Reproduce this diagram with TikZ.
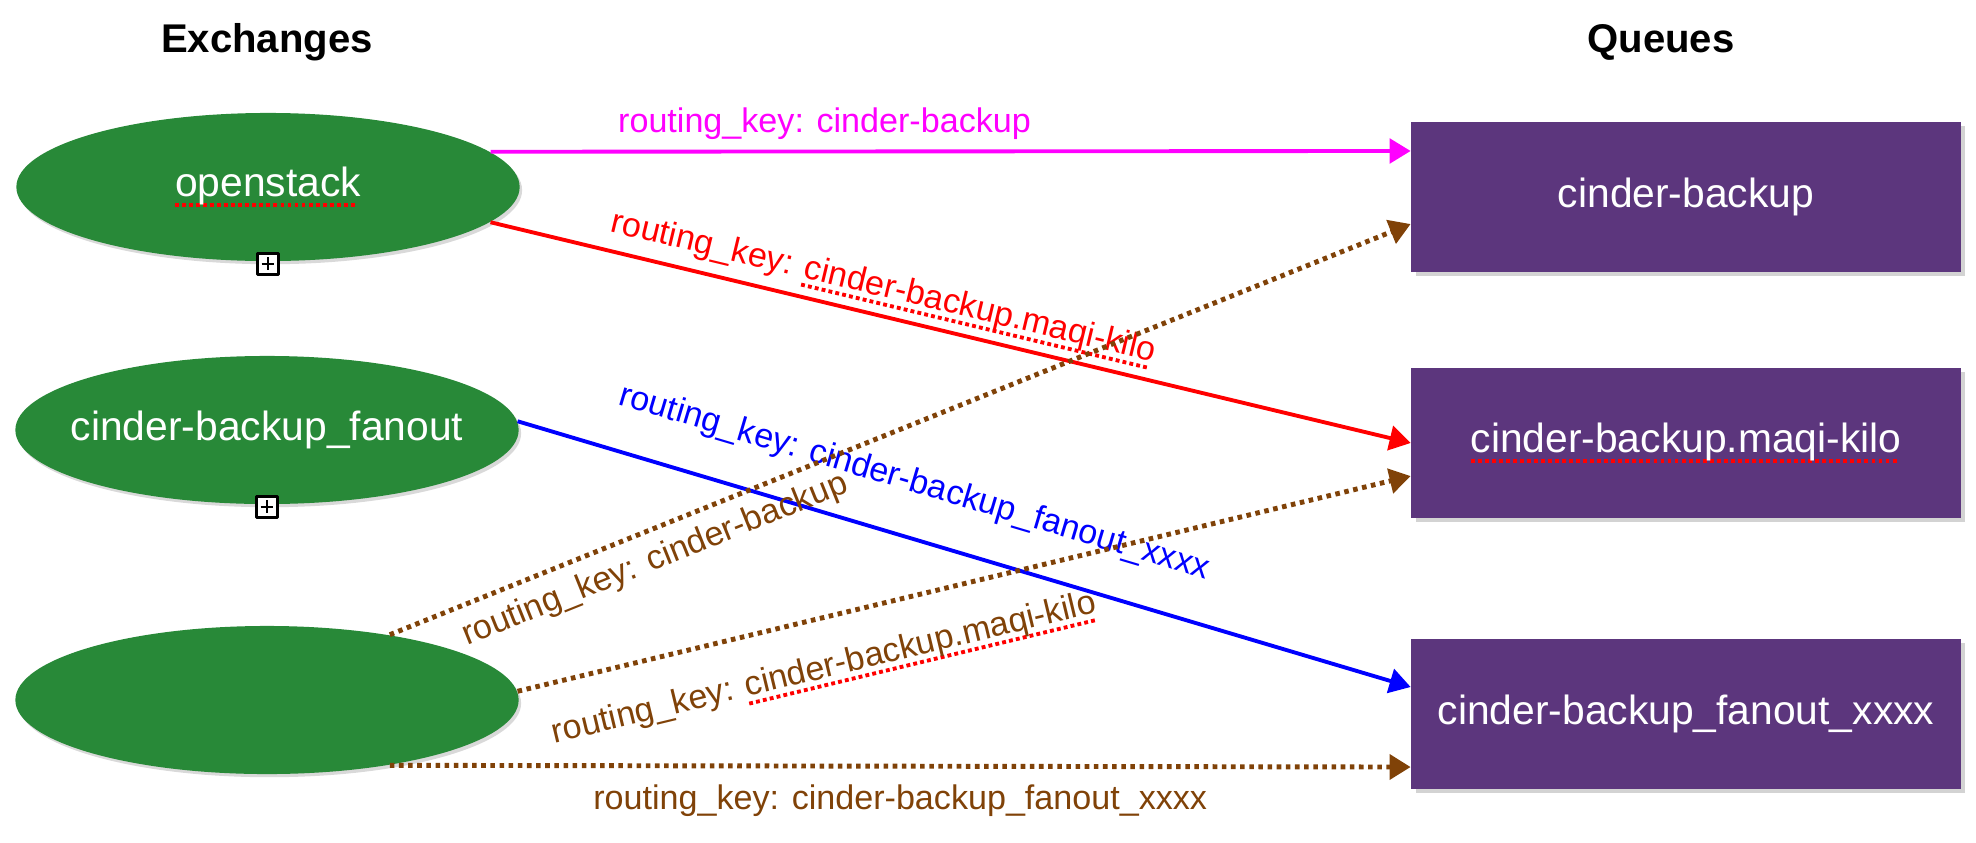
\documentclass[tikz,border=0pt]{standalone}
\usepackage{fontspec}
\setmainfont{Liberation Sans}
\usetikzlibrary{positioning, calc}
\usetikzlibrary{shapes.geometric, shadows}
\usetikzlibrary{arrows.meta}

\definecolor{exgreen}{RGB}{40,137,56}
\definecolor{qpurple}{RGB}{92,54,125}
\definecolor{keybrown}{RGB}{128,66,8}
\definecolor{keymagenta}{RGB}{255,0,255}

% red dotted spell-check mark under a word
\newsavebox{\spellbox}
\newcommand{\spellerr}[1]{\sbox{\spellbox}{#1}%
  \rlap{\color{red}\hbox to\wd\spellbox{\leaders\hbox{\rule[-0.5ex]{1.1pt}{1.1pt}\kern0.9pt}\hfill}}%
  \usebox{\spellbox}}

\begin{document}
\begin{tikzpicture}[x=0.01cm, y=0.01cm, line join=round,
  exchange/.style={ellipse, fill=exgreen, minimum width=5.03cm, minimum height=1.48cm,
    inner xsep=-0.5cm, inner ysep=0pt, text=white, font=\fontsize{11.6}{14}\selectfont,
    drop shadow={shadow xshift=0.7pt, shadow yshift=-0.9pt, opacity=0.3}},
  queue/.style={rectangle, fill=qpurple, minimum width=5.49cm, minimum height=1.5cm,
    inner sep=0pt, text=white, font=\fontsize{11.6}{14}\selectfont,
    drop shadow={shadow xshift=1.2pt, shadow yshift=-1.2pt, opacity=0.35}},
  heading/.style={font=\fontsize{11.4}{14}\selectfont\bfseries},
  keylabel/.style={font=\fontsize{9.7}{12}\selectfont, inner sep=0pt},
  keyarrow/.style={line width=1.1pt, -{Triangle[length=6pt, width=7pt]}},
  bindarrow/.style={keyarrow, keybrown, line width=1.4pt, dash pattern=on 1.3pt off 1.3pt},
  expander/.style={draw, fill=white, line width=0.8pt, minimum size=0.21cm, inner sep=0pt,
    path picture={
      \draw[line width=0.6pt]
        ($(path picture bounding box.north)!0.2!(path picture bounding box.south)$) --
        ($(path picture bounding box.north)!0.8!(path picture bounding box.south)$)
        ($(path picture bounding box.west)!0.2!(path picture bounding box.east)$) --
        ($(path picture bounding box.west)!0.8!(path picture bounding box.east)$);}}]
\useasboundingbox (0,0) rectangle (1976,-842);

% Column titles
\node[heading] (exhead) at (267,-42) {Exchanges};
\node[heading] (qhead) at (1661,-42) {Queues};

% Exchanges
\node[exchange] (openstack) at (268,-187) {\spellerr{openstack}};
\node[exchange] (fanout) at (267,-430) {cinder-backup\_fanout};
\node[exchange] (default) at (267,-700) {};
\node[expander] (openstackplus) at ([yshift=-0.02cm]openstack.south) {};
\node[expander] (fanoutplus) at ([yshift=-0.02cm]fanout.south) {};

% Queues
\node[queue] (backupq) at (1686,-197) {cinder-backup};
\node[queue] (hostq) at (1686,-443) {\spellerr{cinder-backup.maqi-kilo}};
\node[queue] (fanoutq) at (1686,-714) {cinder-backup\_fanout\_xxxx};

% Bindings from the named exchanges
\draw[keyarrow, keymagenta] (openstack.9) -- ([yshift=0.46cm]backupq.west)
  node[keylabel, pos=0.363, above=0.1cm] {routing\_key: cinder-backup};
\draw[keyarrow, red] (openstack.-9.4) -- (hostq.west)
  node[keylabel, pos=0.42, sloped, above=0.08cm] {routing\_key: \spellerr{cinder-backup.maqi-kilo}};
\draw[keyarrow, blue] (fanout.2) -- ([yshift=0.27cm]fanoutq.west)
  node[keylabel, pos=0.427, sloped, above=0.36cm] {routing\_key: cinder-backup\_fanout\_xxxx};

% Bindings from the default exchange
\draw[bindarrow] (default.28) -- ([yshift=-0.27cm]backupq.west)
  node[keylabel, text=keybrown, pos=0.249, sloped, below=0.12cm] {routing\_key: cinder-backup};
\draw[bindarrow] (default.2) -- ([yshift=-0.33cm]hostq.west)
  node[keylabel, text=keybrown, pos=0.33, sloped, below=0.32cm] {routing\_key: \spellerr{cinder-backup.maqi-kilo}};
\draw[bindarrow] (default.-28) -- ([yshift=-0.53cm]fanoutq.west)
  node[keylabel, text=keybrown, pos=0.5, below=0.16cm] {routing\_key: cinder-backup\_fanout\_xxxx};
\end{tikzpicture}
\end{document}
